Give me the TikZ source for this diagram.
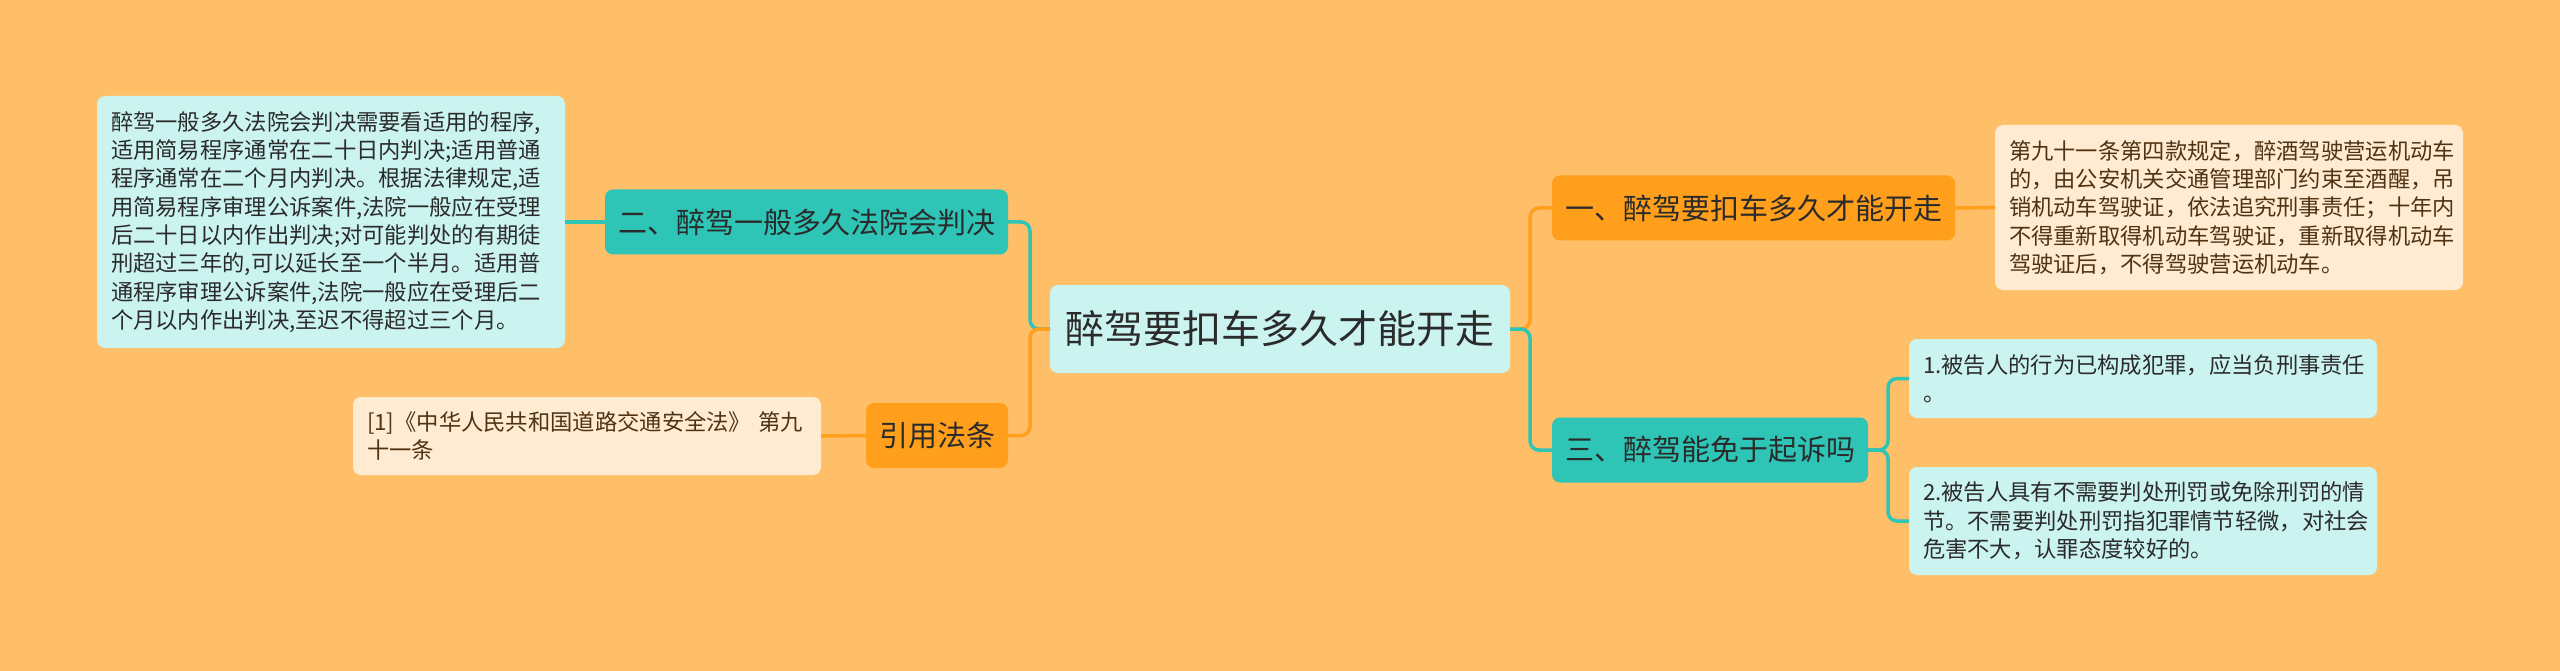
\documentclass[tikz,border=0pt]{standalone}
\usepackage{fontspec}
\newfontfamily\cjk{Noto Sans CJK SC}
\usetikzlibrary{positioning}
\definecolor{bgorange}{HTML}{FFBF69}
\definecolor{mmteal}{HTML}{2EC4B6}
\definecolor{mmorange}{HTML}{FF9F1C}
\definecolor{mmmint}{HTML}{CBF3F0}
\definecolor{mmcream}{HTML}{FFEBD2}
\definecolor{inkdark}{HTML}{2B2B2B}
\definecolor{inkbrown}{HTML}{4F3313}

\begin{document}
\begin{tikzpicture}[
    x=1pt, y=-1pt,
    every node/.style={inner sep=0pt, outer sep=0pt, text=inkdark},
    root/.style={rounded corners=8pt, fill=mmmint, minimum width=460pt,
                 minimum height=88pt, font={\cjk\fontsize{39pt}{46pt}\selectfont}},
    topic/.style={rounded corners=8pt, fill=#1, minimum height=65pt, inner xsep=13pt,
                  font={\cjk\fontsize{29pt}{35pt}\selectfont}},
    note/.style={rounded corners=8pt, fill=#1, text width=440pt, inner xsep=14pt,
                 align=left, font={\cjk\fontsize{22.3pt}{28.3pt}\selectfont}},
    link/.style={draw=#1, line width=3.5pt, rounded corners=9pt},
  ]
  \fill[bgorange] (0,0) rectangle (2560,671);
  \useasboundingbox (0,0) rectangle (2560,671);

  % centre and main topics
  \node[root] (ctr) at (1280,329) {醉驾要扣车多久才能开走};
  \node[topic=mmorange, anchor=west] (q1) at (1552,208) {一、醉驾要扣车多久才能开走};
  \node[topic=mmteal, anchor=west]   (q3) at (1552,450) {三、醉驾能免于起诉吗};
  \node[topic=mmteal, anchor=east]   (q2) at (1008,222) {二、醉驾一般多久法院会判决};
  \node[topic=mmorange, anchor=east] (cite) at (1008,435.5) {引用法条};

  % detail notes
  \node[note=mmcream, text=inkbrown, anchor=west, minimum height=165pt] (n1) at (1995,207.5)
    {第九十一条第四款规定，醉酒驾驶营运机动车\\
     的，由公安机关交通管理部门约束至酒醒，吊\\
     销机动车驾驶证，依法追究刑事责任；十年内\\
     不得重新取得机动车驾驶证，重新取得机动车\\
     驾驶证后，不得驾驶营运机动车。};
  \node[note=mmmint, anchor=east, minimum height=252pt] (n2) at (565,222)
    {醉驾一般多久法院会判决需要看适用的程序,\\
     适用简易程序通常在二十日内判决;适用普通\\
     程序通常在二个月内判决。根据法律规定,适\\
     用简易程序审理公诉案件,法院一般应在受理\\
     后二十日以内作出判决;对可能判处的有期徒\\
     刑超过三年的,可以延长至一个半月。适用普\\
     通程序审理公诉案件,法院一般应在受理后二\\
     个月以内作出判决,至迟不得超过三个月。};
  \node[note=mmcream, text=inkbrown, anchor=east, minimum height=78pt] (n3) at (821,436)
    {[1]《中华人民共和国道路交通安全法》 第九\\
     十一条};
  \node[note=mmmint, anchor=west, minimum height=79pt] (c1) at (1909,378.5)
    {1.被告人的行为已构成犯罪，应当负刑事责任\\
     。};
  \node[note=mmmint, anchor=west, minimum height=108pt] (c2) at (1909,521)
    {2.被告人具有不需要判处刑罚或免除刑罚的情\\
     节。不需要判处刑罚指犯罪情节轻微，对社会\\
     危害不大，认罪态度较好的。};

  % connectors
  \draw[link=mmorange] (ctr.east) -- ++(20,0) |- (q1.west);
  \draw[link=mmteal]   (ctr.east) -- ++(20,0) |- (q3.west);
  \draw[link=mmteal]   (ctr.west) -- ++(-20,0) |- (q2.east);
  \draw[link=mmorange] (ctr.west) -- ++(-20,0) |- (cite.east);
  \draw[link=mmorange] (q1.east) -- (n1.west);
  \draw[link=mmteal]   (q2.west) -- (n2.east);
  \draw[link=mmorange] (cite.west) -- (n3.east);
  \draw[link=mmteal]   (q3.east) -- ++(20,0) |- (c1.west);
  \draw[link=mmteal]   (q3.east) -- ++(20,0) |- (c2.west);
\end{tikzpicture}
\end{document}
